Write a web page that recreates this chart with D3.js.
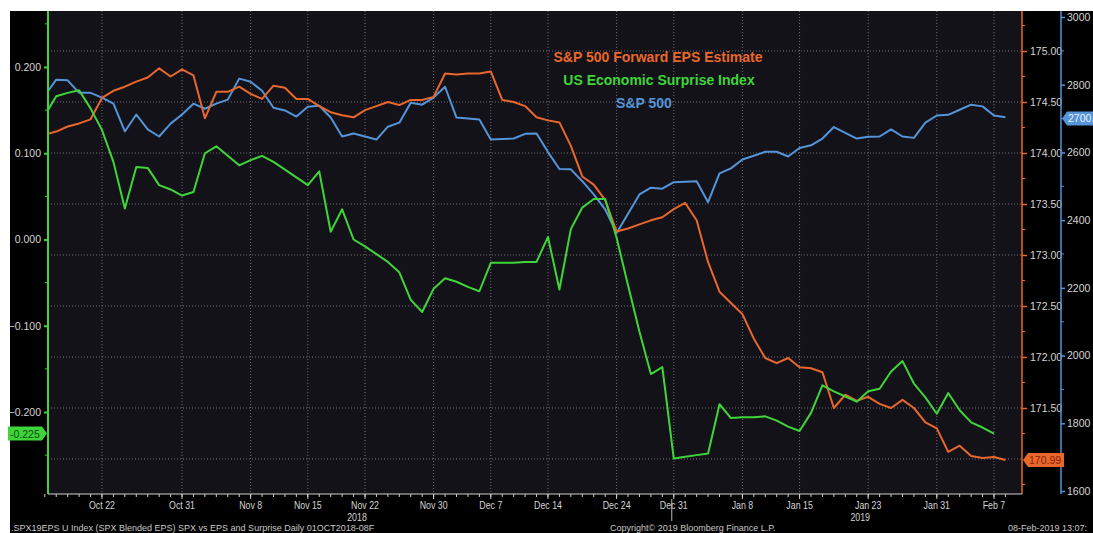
<!DOCTYPE html>
<meta charset="utf-8">
<script src="https://d3js.org/d3.v7.min.js"></script>
<style>
  body { margin: 0; background: #fff; }
  text { font-family: "Liberation Sans", Arial, sans-serif; }
</style>
<div id="chart"></div>
<script>

// weekdays from Oct 15 2018 to Feb 8 2019 (one value per weekday, null = no print)
var firstDay = new Date(2018, 9, 15), lastDay = new Date(2019, 1, 9);

// S&P 500 Forward EPS Estimate (right axis, orange)
var epsValues = [174.18, 174.21, 174.26, 174.29, 174.33, 174.54, 174.61, 174.65, 174.70, 174.74,
  174.83, 174.75, 174.82, 174.76, 174.34, 174.60, 174.60, 174.65, 174.58, 174.53,
  174.66, 174.64, 174.53, 174.53, 174.46, 174.40, 174.37, 174.35, 174.42, 174.46,
  174.50, 174.47, 174.52, 174.52, 174.55, 174.78, 174.77, 174.78, 174.78, 174.80,
  174.52, 174.50, 174.46, 174.35, 174.32, 174.30, 174.07, 173.77, 173.69, 173.54,
  173.23, 173.26, 173.30, 173.34, 173.37, 173.45, 173.51, 173.34, 172.93, 172.64,
  172.53, 172.42, 172.18, 171.99, 171.94, 171.99, 171.90, 171.89, 171.85, 171.50,
  171.63, 171.57, 171.61, 171.54, 171.50, 171.58, 171.50, 171.36, 171.30, 171.07,
  171.13, 171.03, 171.01, 171.02, 170.99];

// US Economic Surprise Index (left axis, green)
var surpriseValues = [0.144, 0.166, 0.170, 0.173, 0.152, 0.127, 0.090, 0.036, 0.084, 0.083,
  0.063, 0.058, 0.051, 0.055, 0.100, 0.108, 0.097, 0.086, 0.092, 0.097,
  0.090, 0.081, 0.072, 0.063, 0.079, 0.009, 0.035, 0.000, -0.008, -0.017,
  -0.026, -0.038, -0.070, -0.084, -0.057, -0.045, -0.049, -0.055, -0.060, -0.027,
  -0.027, -0.027, -0.026, -0.026, 0.003, -0.058, 0.012, 0.037, 0.047, 0.047,
  0.002, -0.053, -0.107, -0.156, -0.148, -0.254, -0.252, -0.250, -0.248, -0.191,
  -0.207, -0.206, -0.206, -0.205, -0.210, -0.217, -0.222, -0.201, -0.169, -0.176,
  -0.182, -0.188, -0.176, -0.173, -0.153, -0.141, -0.167, -0.183, -0.202, -0.178,
  -0.198, -0.212, -0.218, -0.225, null];

// S&P 500 (far right axis, blue); holidays are null
var spxValues = [2768, 2815, 2813, 2776, 2776, 2762, 2744, 2662, 2712, 2668,
  2647, 2685, 2712, 2744, 2729, 2744, 2756, 2818, 2809, 2782,
  2732, 2724, 2706, 2735, 2738, 2703, 2647, 2656, null, 2638,
  2676, 2688, 2747, 2741, 2762, 2794, 2703, null, 2697, 2638,
  2640, 2641, 2655, 2656, 2601, 2551, 2550, 2515, 2476, 2432,
  2362, null, 2476, 2496, 2493, 2512, null, 2515, 2453, 2538,
  2553, 2579, 2590, 2602, 2602, 2588, 2613, 2621, 2641, 2675,
  null, 2641, 2646, 2647, 2668, 2647, 2643, 2688, 2709, 2711,
  2726, 2741, 2736, 2709, 2704];

var xTickLabels = ["Oct 22", "Oct 31", "Nov 8", "Nov 15", "Nov 22", "Nov 30", "Dec 7", "Dec 14",
  "Dec 24", "Dec 31", "Jan 8", "Jan 15", "Jan 23", "Jan 31", "Feb 7"];
var yearLabels = [{label: "2018", at: "Nov 22"}, {label: "2019", at: "Jan 23"}];
var surpriseTicks = [0.2, 0.1, 0.0, -0.1, -0.2];
var epsTicks = [175.0, 174.5, 174.0, 173.5, 173.0, 172.5, 172.0, 171.5];
var spxTicks = [3000, 2800, 2600, 2400, 2200, 2000, 1800, 1600];
var legendNames = ["S&P 500 Forward EPS Estimate", "US Economic Surprise Index", "S&P 500"];

var days = d3.timeDay.range(firstDay, lastDay).filter(function(d) { return d.getDay() > 0 && d.getDay() < 6; });
var fmtDay = d3.timeFormat("%b %-d");
var dayNames = days.map(fmtDay);

var W = 1093, H = 533;
var mLeft = 48, mRight = 1022, mTop = 11, mBottom = 494;
var orange = "#e8672d", green = "#3fd53a", blue = "#5594d8";
var labelColor = "#d4d4d4";

var svg = d3.select("#chart").append("svg").attr("width", W).attr("height", H);

// black frame and dark plot
svg.append("rect").attr("x", 10).attr("y", 11).attr("width", W - 10).attr("height", H - 11).attr("fill", "#000");
svg.append("rect").attr("x", mLeft).attr("y", mTop).attr("width", mRight - mLeft).attr("height", mBottom - mTop).attr("fill", "#131218");

var x = d3.scaleLinear().domain([0.28, 85.45]).range([mLeft, mRight]);
var ySurprise = d3.scaleLinear().domain([-0.2, 0.2]).range([412, 67]);
var yEps = d3.scaleLinear().domain([171, 175]).range([459, 51]);
var ySpx = d3.scaleLinear().domain([1600, 3000]).range([491, 17]);

// grid
var grid = svg.append("g").attr("stroke", "#6e6d74").attr("stroke-width", 1).attr("stroke-dasharray", "1,2");
d3.range(171, 175.01, 0.5).forEach(function(v) {
  grid.append("line").attr("x1", mLeft).attr("x2", mRight).attr("y1", yEps(v)).attr("y2", yEps(v));
});
xTickLabels.forEach(function(lbl) {
  var i = dayNames.indexOf(lbl);
  grid.append("line").attr("x1", x(i)).attr("x2", x(i)).attr("y1", mTop).attr("y2", mBottom);
});

// lines
svg.append("clipPath").attr("id", "plotclip").append("rect")
  .attr("x", mLeft).attr("y", mTop).attr("width", mRight - mLeft).attr("height", mBottom - mTop);
function drawLine(values, yScale, color) {
  var pts = values.map(function(v, i) { return [i, v]; }).filter(function(p) { return p[1] != null; });
  svg.append("path").datum(pts)
    .attr("fill", "none").attr("stroke", color).attr("stroke-width", 2).attr("stroke-linejoin", "round")
    .attr("clip-path", "url(#plotclip)")
    .attr("d", d3.line().x(function(p) { return x(p[0]); }).y(function(p) { return yScale(p[1]); }));
}
drawLine(spxValues, ySpx, blue);
drawLine(epsValues, yEps, orange);
drawLine(surpriseValues, ySurprise, green);

// left axis (green)
var axL = svg.append("g").attr("transform", "translate(" + mLeft + ",0)")
  .call(d3.axisLeft(ySurprise).tickValues(surpriseTicks).tickFormat(d3.format(".3f")).tickSize(4).tickPadding(3));
axL.selectAll(".tick text").attr("fill", labelColor).style("font-size", "10.5px");
axL.selectAll(".tick line").attr("stroke", green).attr("stroke-width", 2);
axL.select(".domain").remove();
axL.append("g").selectAll("line").data([0.25, 0.15, 0.05, -0.05, -0.15, -0.25]).enter().append("line")
  .attr("x1", -3).attr("x2", 0).attr("y1", ySurprise).attr("y2", ySurprise).attr("stroke", green);
svg.append("line").attr("x1", mLeft).attr("x2", mLeft).attr("y1", mTop).attr("y2", mBottom).attr("stroke", green).attr("stroke-width", 2);

// right axis (orange)
var axR = svg.append("g").attr("transform", "translate(" + mRight + ",0)")
  .call(d3.axisRight(yEps).tickValues(epsTicks).tickFormat(d3.format(".2f")).tickSize(5).tickPadding(3));
axR.selectAll(".tick text").attr("fill", labelColor).style("font-size", "10.5px");
axR.selectAll(".tick line").attr("stroke", orange).attr("stroke-width", 1.5);
axR.select(".domain").remove();
axR.append("g").selectAll("line").data([175.25, 174.75, 174.25, 173.75, 173.25, 172.75, 172.25, 171.75, 171.25, 170.75]).enter().append("line")
  .attr("x1", 0).attr("x2", 3).attr("y1", yEps).attr("y2", yEps).attr("stroke", orange);
svg.append("line").attr("x1", mRight).attr("x2", mRight).attr("y1", mTop).attr("y2", mBottom).attr("stroke", orange).attr("stroke-width", 1.5);

// far right axis (blue)
var spxX = 1061;
var axS = svg.append("g").attr("transform", "translate(" + spxX + ",0)")
  .call(d3.axisRight(ySpx).tickValues(spxTicks).tickFormat(d3.format("d")).tickSize(4).tickPadding(2));
axS.selectAll(".tick text").attr("fill", labelColor).style("font-size", "10.5px");
axS.selectAll(".tick line").attr("stroke", blue).attr("stroke-width", 1.5);
axS.select(".domain").remove();
axS.append("g").selectAll("line").data([2900, 2700, 2500, 2300, 2100, 1900, 1700]).enter().append("line")
  .attr("x1", 0).attr("x2", 3).attr("y1", ySpx).attr("y2", ySpx).attr("stroke", blue);
svg.append("line").attr("x1", spxX).attr("x2", spxX).attr("y1", mTop).attr("y2", mBottom).attr("stroke", blue).attr("stroke-width", 1.5);

// x axis
var axB = svg.append("g").attr("transform", "translate(0," + mBottom + ")");
axB.append("line").attr("x1", mLeft).attr("x2", mRight).attr("stroke", "#cfcfcf");
axB.selectAll(".minor").data(days).enter().append("line")
  .attr("x1", function(d, i) { return x(i); }).attr("x2", function(d, i) { return x(i); })
  .attr("y1", 0).attr("y2", 3).attr("stroke", "#cfcfcf");
function narrowText(g, xPos, yPos, txt) {
  g.append("text").attr("transform", "translate(" + xPos + "," + yPos + ") scale(0.8,1)")
    .attr("text-anchor", "middle").attr("fill", labelColor).style("font-size", "11px").text(txt);
}
xTickLabels.forEach(function(lbl) {
  var i = dayNames.indexOf(lbl);
  axB.append("line").attr("x1", x(i)).attr("x2", x(i)).attr("y1", 0).attr("y2", 5).attr("stroke", "#cfcfcf");
  narrowText(axB, x(i), 15, lbl);
});
yearLabels.forEach(function(yl) {
  narrowText(axB, x(dayNames.indexOf(yl.at)) - 8, 26.5, yl.label);
});
var sep = dayNames.indexOf("Dec 31");
axB.append("line").attr("x1", x(sep) - 2).attr("x2", x(sep) - 2).attr("y1", 5).attr("y2", 27).attr("stroke", "#bdbdbd");

// last value tags
function tag(xPos, yPos, w, txt, fill, txtColor, pointLeft) {
  var h = 14, a = 5, p;
  if (pointLeft) {
    p = [[xPos, yPos], [xPos + a, yPos - h / 2], [xPos + w, yPos - h / 2], [xPos + w, yPos + h / 2], [xPos + a, yPos + h / 2]];
  } else {
    p = [[xPos, yPos], [xPos - a, yPos - h / 2], [xPos - w, yPos - h / 2], [xPos - w, yPos + h / 2], [xPos - a, yPos + h / 2]];
  }
  svg.append("path").attr("d", "M" + p.join("L") + "Z").attr("fill", fill);
  svg.append("text").attr("x", pointLeft ? xPos + a + 1 : xPos - w + 2).attr("y", yPos + 4)
    .attr("fill", txtColor).style("font-size", "10.5px").text(txt);
}
var lastSurprise = surpriseValues[83], lastEps = epsValues[84], lastSpx = 2700.31;
tag(mLeft - 1, ySurprise(lastSurprise), 39, d3.format(".3f")(lastSurprise).replace("\u2212", "-"), green, "#0b4a0b", false);
tag(mRight + 1, yEps(lastEps), 41, d3.format(".2f")(lastEps), orange, "#8a2200", true);
tag(spxX + 1, ySpx(lastSpx), 44, d3.format(".2f")(lastSpx), blue, "#eaf2ff", true);

// legend (centres)
var legendColors = [orange, green, blue];
var legendCentres = [658, 659, 644];
legendNames.forEach(function(n, i) {
  svg.append("text").attr("x", legendCentres[i]).attr("y", 62 + i * 23).attr("text-anchor", "middle")
    .attr("fill", legendColors[i]).style("font-weight", "bold").style("font-size", "14px")
    .text(n);
});

// footer
var foot = svg.append("g").attr("fill", "#c8c8c8").style("font-size", "9px");
foot.append("text").attr("x", 11).attr("y", 531).text(".SPX19EPS U Index (SPX Blended EPS) SPX vs EPS and Surprise  Daily 01OCT2018-08F");
foot.append("text").attr("x", 610).attr("y", 531).text("Copyright\u00a9 2019 Bloomberg Finance L.P.");
foot.append("text").attr("x", 1008).attr("y", 531).text("08-Feb-2019 13:07:");

</script>
